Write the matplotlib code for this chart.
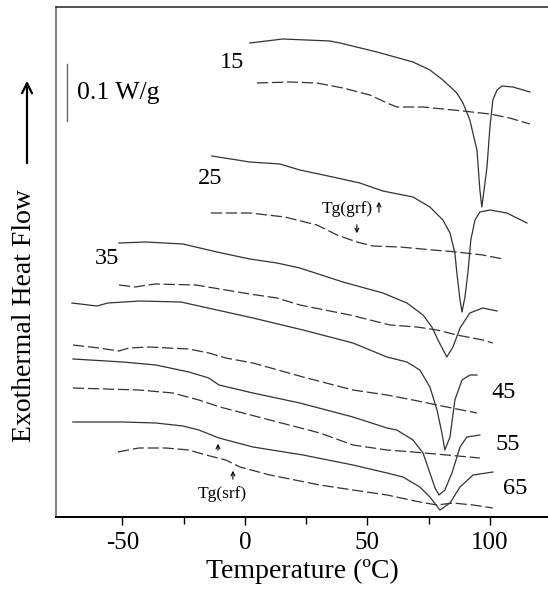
import matplotlib
matplotlib.use('Agg')
import matplotlib.pyplot as plt

plt.rcParams['font.family'] = ['Liberation Serif', 'DejaVu Serif']
plt.rcParams['axes.unicode_minus'] = False

# DSC traces, temperature in C, heat flow in arbitrary units (57 units = 0.1 W/g)
t_15 = [2, 15.5, 34.7, 38.8, 53.9, 68.6, 75.5, 80.8, 86.5, 89, 91.8, 94.7, 95.9, 96.7,
        98.8, 100, 101.2, 102.9, 104.9, 109.4, 116.3]
hf_15 = [474, 478, 476, 474, 465, 455, 447, 437, 424, 414, 397, 367, 327, 310,
         350, 390, 417, 427, 431, 430, 425]
t_15d = [4.9, 18.4, 29.4, 40, 51, 58, 62, 72.7, 89, 100, 108, 116.3]
hf_15d = [434, 435, 434, 429, 422, 414, 410, 410, 406, 403, 399, 393]

t_25 = [-13.5, 2, 14.3, 22.4, 35.9, 46.9, 56.3, 68.6, 75.5, 80.8, 83.7, 85.7, 86.5, 87.8,
        88.6, 89.8, 91, 92.2, 93.9, 95.9, 100, 106.9, 115.1]
hf_25 = [361, 355, 353, 347, 340, 334, 326, 320, 310, 297, 284, 264, 244, 217,
         205, 220, 244, 277, 297, 305, 307, 304, 294]
t_25d = [-13.9, 2, 16.3, 29.4, 37.6, 45.7, 52.2, 63.3, 76.7, 86.5, 97.1, 105.3]
hf_25d = [304, 304, 300, 292, 282, 275, 271, 270, 267, 265, 262, 258]

t_35 = [-51.4, -40.4, -25.3, -11.4, 2, 13.1, 22.4, 40, 56.3, 66.1, 72.7, 76.3, 78.8,
        82.4, 84.9, 87.8, 91.8, 97.1, 102.9]
hf_35 = [274, 275, 273, 265, 258, 254, 249, 235, 224, 214, 202, 190, 177,
         160, 170, 189, 204, 209, 206]
t_35d = [-51.4, -44.9, -36.7, -20, -7.8, 2, 13.1, 22.4, 42.9, 59.2, 70.2, 78.4, 86.5,
         97.1, 101.2]
hf_35d = [232, 230, 233, 232, 227, 223, 219, 212, 202, 192, 190, 187, 182, 177, 174]

t_45 = [-70.6, -60.4, -55.9, -42.9, -26.1, -11.4, 3.3, 23.7, 44.1, 58, 66.1, 71.4, 75.5,
        78.4, 80.4, 81.6, 83.7, 85.7, 88.6, 91.8, 94.7]
hf_45 = [214, 211, 214, 216, 215, 207, 199, 187, 174, 160, 155, 147, 130,
         107, 84, 67, 80, 117, 137, 142, 142]
t_45d = [-70.2, -59.6, -51.4, -47.3, -39.2, -22.9, -14.7, -7.8, 3.3, 23.7, 44.1, 58,
         68.6, 82.4, 94.7]
hf_45d = [172, 169, 166, 169, 170, 168, 164, 159, 154, 140, 127, 122, 117, 110, 104]

t_55 = [-70.2, -49.8, -36.3, -22.9, -14.7, -10.6, 3.3, 22.4, 44.1, 58, 62, 68.6, 72.7,
        75.5, 77.6, 79.2, 81.6, 84.5, 87.8, 90.6, 95.9]
hf_55 = [158, 155, 152, 145, 139, 132, 124, 114, 100, 89, 87, 77, 64,
         44, 29, 22, 27, 44, 70, 80, 82]
t_55d = [-70.2, -56.7, -43.3, -29.4, -18.8, -10.2, 10.2, 30.6, 44.1, 58, 68.6, 82.4, 95.9]
hf_55d = [129, 128, 127, 124, 117, 110, 97, 84, 72, 67, 65, 62, 59]

t_65 = [-70.2, -49.8, -36.3, -25.3, -18.8, -10.6, 3.3, 23.7, 44.1, 58, 64.5, 71.4, 75.5,
        79.6, 83.7, 87.8, 93.1, 101.2]
hf_65 = [95, 95, 94, 91, 87, 79, 70, 62, 52, 44, 40, 30, 20, 7, 14, 30, 42, 45]
t_65d = [-51.8, -43.3, -32.2, -22.9, -15.9, -7.8, -2, 10.2, 30.6, 44.1, 58, 71.4, 78.4,
         84.9, 93.1, 101.2]
hf_65d = [65, 69, 69, 67, 62, 57, 50, 42, 32, 27, 22, 15, 12, 14, 12, 9]

labels = ['15', '25', '35', '45', '55', '65']
label_t = [-5.3, -14.3, -56.3, 105.7, 107.3, 110.2]
label_hf = [455, 338, 258, 125, 73, 29]

scale_t = -72.7
scale_hf = [396, 453]

solid = [(t_15, hf_15), (t_25, hf_25), (t_35, hf_35), (t_45, hf_45), (t_55, hf_55), (t_65, hf_65)]
dashed = [(t_15d, hf_15d), (t_25d, hf_25d), (t_35d, hf_35d), (t_45d, hf_45d),
          (t_55d, hf_55d), (t_65d, hf_65d)]

fig = plt.figure(figsize=(5.48, 5.90), dpi=100)
ax = fig.add_axes([56 / 548, 73 / 590, 492 / 548, 510 / 590])

for t, hf in solid:
    ax.plot(t, hf, color='#333333', lw=0.9)
for t, hf in dashed:
    ax.plot(t, hf, color='#333333', lw=0.9, linestyle=(0, (9, 3)))

for lab, x, y in zip(labels, label_t, label_hf):
    ax.text(x, y, lab, fontsize=17.5, ha='center', va='center')

# scale bar
ax.plot([scale_t, scale_t], scale_hf, color='#666666', lw=1.0)
ax.text(-68.6, 424, '0.1 W/g', fontsize=18.5, ha='left', va='center')

# glass transition markers
ax.text(41.6, 308, 'Tg(grf)', fontsize=12.5, ha='center', va='center')
ax.text(-9.4, 23, 'Tg(srf)', fontsize=12.5, ha='center', va='center')
arr = dict(arrowstyle='->', lw=0.8, color='black', mutation_scale=7)
ax.annotate('', xy=(54.7, 318), xytext=(54.7, 302), arrowprops=arr)
ax.annotate('', xy=(45.7, 281), xytext=(45.7, 295), arrowprops=arr)
ax.annotate('', xy=(-4.9, 49), xytext=(-4.9, 35), arrowprops=arr)
ax.annotate('', xy=(-11, 76), xytext=(-11, 64), arrowprops=arr)

ax.set_xlim(-77.1, 123.7)
ax.set_ylim(0, 510)
ax.set_xticks([-50, 0, 50, 100])
ax.set_xticks([-25, 25, 75], minor=True)
ax.set_yticks([])
ax.tick_params(axis='x', which='major', direction='out', length=6, width=1, labelsize=18, pad=5)
ax.tick_params(axis='x', which='minor', direction='out', length=5, width=1)

ax.spines['right'].set_visible(False)
ax.spines['left'].set_color('#808080')
ax.spines['left'].set_linewidth(1.4)
ax.spines['top'].set_color('#333333')
ax.spines['top'].set_linewidth(1.2)
ax.spines['bottom'].set_linewidth(1.4)

ax.set_xlabel('Temperature (ºC)', fontsize=20, labelpad=3)
fig.text(25 / 548, 1 - 316 / 590, 'Exothermal Heat Flow', rotation=90, fontsize=20,
         ha='center', va='center')
fig.add_artist(matplotlib.patches.FancyArrowPatch((27 / 548, 1 - 166 / 590), (27 / 548, 1 - 78 / 590),
                                                   transform=fig.transFigure, arrowstyle='->',
                                                   mutation_scale=18, lw=1.6, color='black'))

fig.savefig('out.png', dpi=100)
